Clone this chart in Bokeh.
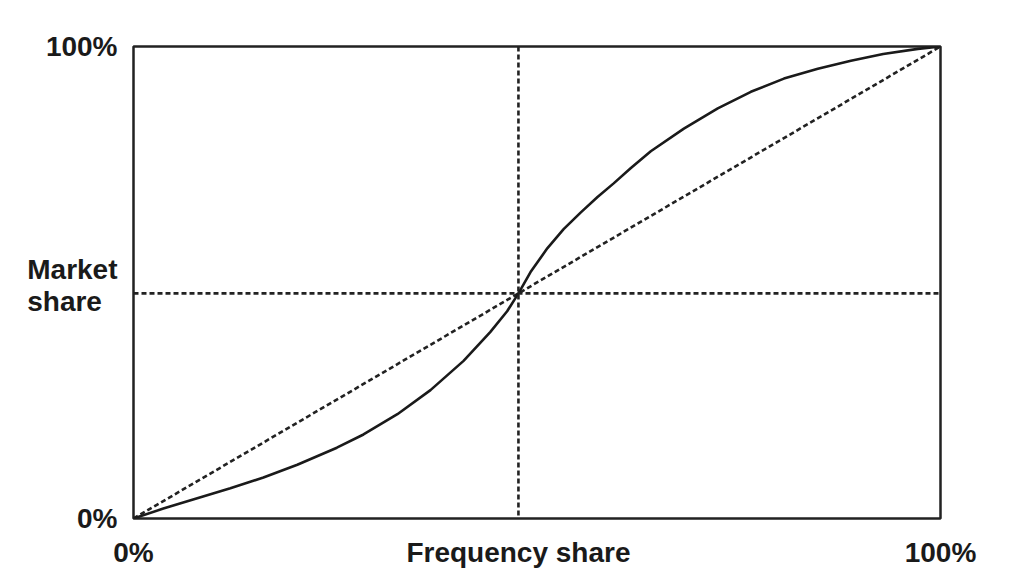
from bokeh.plotting import figure
from bokeh.models import Range1d, FixedTicker, Span
from bokeh.embed import file_html
from bokeh.resources import INLINE

# S-curve: market share as a function of frequency share (fractions)
freq_share = [0.0, 0.037, 0.079, 0.120, 0.161, 0.203, 0.252, 0.285, 0.327, 0.368,
              0.409, 0.442, 0.463, 0.477, 0.492, 0.513, 0.533, 0.554, 0.575, 0.595,
              0.616, 0.641, 0.682, 0.724, 0.765, 0.806, 0.848, 0.889, 0.929, 0.972, 1.0]
market_share = [0.0, 0.021, 0.043, 0.064, 0.087, 0.114, 0.150, 0.178, 0.221, 0.272,
                0.334, 0.395, 0.439, 0.477, 0.522, 0.573, 0.613, 0.648, 0.681, 0.710,
                0.742, 0.778, 0.826, 0.869, 0.904, 0.932, 0.953, 0.970, 0.984, 0.995, 1.0]
parity_x = [0.0, 1.0]
parity_y = [0.0, 1.0]
crossover = 0.477
tick_vals = [0.0, 1.0]
tick_labels = {0.0: "0%", 1.0: "100%"}
x_title = "Frequency share"
y_title = "Market\nshare\u00a0\u00a0"

FONT = "Liberation Sans"
FS = "28px"
INK = "#1a1a1a"
Y_TITLE_SHIFT = 0.017  # title sits slightly above the crossover line

p = figure(width=1000, height=570, output_backend="svg", toolbar_location=None,
           x_range=Range1d(0, 1), y_range=Range1d(0, 1),
           min_border_left=133, min_border_right=60, min_border_top=46, min_border_bottom=52)
p.grid.visible = False
p.background_fill_color = "white"
p.border_fill_color = "white"
p.outline_line_color = "#222222"
p.outline_line_width = 2.5

# axes: 0% / 100% labels plus the axis titles near the crossover position
x_ticks = tick_vals[:1] + [crossover] + tick_vals[1:]
x_over = dict(tick_labels)
x_over[crossover] = x_title
y_pos = crossover + Y_TITLE_SHIFT
y_ticks = tick_vals[:1] + [y_pos] + tick_vals[1:]
y_over = dict(tick_labels)
y_over[y_pos] = y_title
p.xaxis.ticker = FixedTicker(ticks=x_ticks)
p.xaxis.major_label_overrides = x_over
p.yaxis.ticker = FixedTicker(ticks=y_ticks)
p.yaxis.major_label_overrides = y_over
for ax in (p.xaxis, p.yaxis):
    ax.axis_line_color = None
    ax.major_tick_line_color = None
    ax.minor_tick_line_color = None
    ax.major_tick_out = 0
    ax.major_tick_in = 0
    ax.major_label_text_font = FONT
    ax.major_label_text_font_size = FS
    ax.major_label_text_font_style = "bold"
    ax.major_label_text_color = INK
p.xaxis.major_label_standoff = 18
p.yaxis.major_label_standoff = 16
p.yaxis.major_label_text_line_height = 1.05

# dashed reference lines
p.line(parity_x, parity_y, line_color="#222222", line_width=2.6, line_dash="5 3")
p.add_layout(Span(location=crossover, dimension="height", line_color="#222222",
                  line_width=2.6, line_dash="5 3"))
p.add_layout(Span(location=crossover, dimension="width", line_color="#222222",
                  line_width=2.6, line_dash="5 3"))

# S-curve
p.line(freq_share, market_share, line_color=INK, line_width=2.6, line_join="round")

open("out.html", "w").write(file_html(p, INLINE))
